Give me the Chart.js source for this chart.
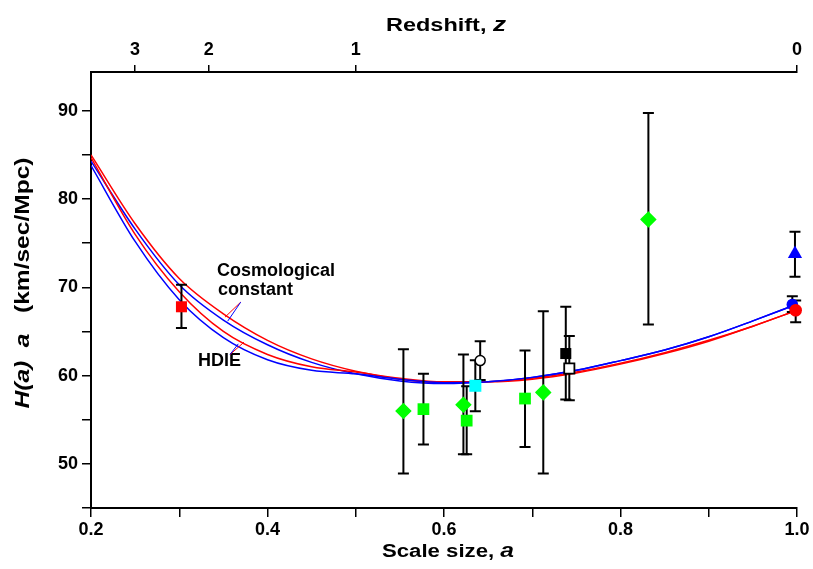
<!DOCTYPE html>
<html><head><meta charset="utf-8">
<script src="https://cdn.jsdelivr.net/npm/chart.js@4.4.1/dist/chart.umd.min.js"></script>
<style>html,body{margin:0;padding:0;background:#fff}canvas{display:block}</style>
</head><body>
<canvas id="c" width="813" height="569"></canvas>
<script>
// ---- data ----
const curveA    = [0.20,0.25,0.30,0.35,0.40,0.45,0.50,0.55,0.60,0.65,0.70,0.75,0.80,0.85,0.90,0.95,1.00];
const cosmoRed  = [85.0,77.2,71.0,67.0,64.0,61.9,60.5,59.6,59.2,59.3,59.7,60.4,61.4,62.6,64.0,65.6,67.4];
const cosmoBlue = [84.3,76.6,70.3,66.3,63.5,61.5,60.2,59.4,59.1,59.3,59.8,60.6,61.7,62.9,64.4,66.2,68.1];
const hdieRed   = [84.7,76.0,69.5,65.0,62.4,61.0,60.4,59.7,59.3,59.3,59.6,60.3,61.3,62.5,63.9,65.6,67.4];
const hdieBlue  = [83.8,75.2,68.6,64.3,61.8,60.6,60.2,59.6,59.2,59.3,59.8,60.6,61.7,62.9,64.4,66.2,68.1];

const redSquareA = [0.3025], redSquareH = [67.8], redSquareLo = [65.4], redSquareHi = [70.3];
const greenDiamondA = [0.554,0.622,0.7125,0.8316], greenDiamondH = [56.0,56.7,58.1,77.7];
const greenDiamondLo = [48.9,51.1,48.9,65.8], greenDiamondHi = [63.0,62.4,67.3,89.75];
const greenSquareA = [0.5767,0.6257,0.6918], greenSquareH = [56.2,54.9,57.4];
const greenSquareLo = [52.2,51.1,51.9], greenSquareHi = [60.2,58.8,62.85];
const cyanSquareA = [0.6355], cyanSquareH = [58.85], cyanSquareLo = [55.95], cyanSquareHi = [61.75];
const openCircleA = [0.641], openCircleH = [61.7], openCircleLo = [59.5], openCircleHi = [63.9];
const blackSquareA = [0.738], blackSquareH = [62.5], blackSquareLo = [57.3], blackSquareHi = [67.8];
const openSquareA = [0.742], openSquareH = [60.8], openSquareLo = [57.2], openSquareHi = [64.5];
const blueTriangleA = [0.9977], blueTriangleH = [73.8], blueTriangleLo = [71.2], blueTriangleHi = [76.3];
const blueCircleA = [0.9947], blueCircleH = [68.06], blueCircleLo = [67.2], blueCircleHi = [69.0];
const redCircleA = [0.9985], redCircleH = [67.4], redCircleLo = [66.05], redCircleHi = [68.5];

const xTickLabels = ['0.2','0.4','0.6','0.8','1.0'];
const yTickLabels = ['50','60','70','80','90'];
const zTickValues = [3,2,1,0];
const zTickLabels = ['3','2','1','0'];

// ---- helpers ----
const FONT = 'Liberation Sans, Arial, sans-serif';
const pts = (a,h) => a.map((x,i)=>({x:x,y:h[i]}));
const errGroups = [
  [redSquareA,redSquareLo,redSquareHi],
  [greenDiamondA,greenDiamondLo,greenDiamondHi],
  [greenSquareA,greenSquareLo,greenSquareHi],
  [cyanSquareA,cyanSquareLo,cyanSquareHi],
  [openCircleA,openCircleLo,openCircleHi],
  [blackSquareA,blackSquareLo,blackSquareHi],
  [openSquareA,openSquareLo,openSquareHi],
  [blueTriangleA,blueTriangleLo,blueTriangleHi],
  [blueCircleA,blueCircleLo,blueCircleHi],
  [redCircleA,redCircleLo,redCircleHi]
];
function marker(label,a,h,style,r,bg,border,bw){
  return {label:label,data:pts(a,h),showLine:false,pointStyle:style,pointRadius:r,pointHoverRadius:r,
    backgroundColor:bg,borderColor:border,borderWidth:bw,clip:false};
}
function curve(label,h,color){
  return {label:label,data:pts(curveA,h),showLine:true,pointRadius:0,borderColor:color,
    borderWidth:1.5,cubicInterpolationMode:'monotone',fill:false};
}
const datasets = [
  marker('redCircle',redCircleA,redCircleH,'circle',6.3,'#ff0000','#ff0000',0),
  marker('blueCircle',blueCircleA,blueCircleH,'circle',5.8,'#0000ff','#0000ff',0),
  marker('blueTriangle',blueTriangleA,blueTriangleH,'triangle',8.2,'#0000ff','#0000ff',0),
  marker('redSquare',redSquareA,redSquareH,'rect',7.8,'#ff0000','#ff0000',0),
  marker('greenDiamond',greenDiamondA,greenDiamondH,'rectRot',7.2,'#00ff00','#00ff00',1.5),
  marker('greenSquare',greenSquareA,greenSquareH,'rect',8.3,'#00ff00','#00ff00',0),
  marker('cyanSquare',cyanSquareA,cyanSquareH,'rect',8.5,'#00ffff','#00ffff',0),
  marker('openCircle',openCircleA,openCircleH,'circle',5,'#ffffff','#000000',1.5),
  marker('blackSquare',blackSquareA,blackSquareH,'rect',7.8,'#000000','#000000',0),
  marker('openSquare',openSquareA,openSquareH,'rect',7.2,'#ffffff','#000000',1.8),
  curve('HDIE blue',hdieBlue,'#0000ff'),
  curve('HDIE red',hdieRed,'#ff0000'),
  curve('Cosmo blue',cosmoBlue,'#0000ff'),
  curve('Cosmo red',cosmoRed,'#ff0000')
];
const FIRST_CURVE = 10;

const errorBars = {
  id:'errorBars',
  afterDatasetDraw(chart,args){
    if(args.index!==FIRST_CURVE) return;
    const ctx=chart.ctx, xs=chart.scales.x, ys=chart.scales.y;
    ctx.save(); ctx.strokeStyle='#000'; ctx.lineWidth=2; ctx.lineCap='butt';
    errGroups.forEach(g=>{
      g[0].forEach((a,i)=>{
        const px=xs.getPixelForValue(a), p1=ys.getPixelForValue(g[1][i]), p2=ys.getPixelForValue(g[2][i]);
        ctx.beginPath();
        ctx.moveTo(px,p1); ctx.lineTo(px,p2);
        ctx.moveTo(px-5.5,p1); ctx.lineTo(px+5.5,p1);
        ctx.moveTo(px-5.5,p2); ctx.lineTo(px+5.5,p2);
        ctx.stroke();
      });
    });
    ctx.restore();
  }
};

function drawParts(ctx,parts,cx,cy,targetW){
  let w=0; parts.forEach(p=>{ctx.font=p.f; p.w=ctx.measureText(p.t).width; w+=p.w;});
  const sx = targetW? targetW/w : 1;
  ctx.save(); ctx.translate(cx,cy); ctx.scale(sx,1);
  let x=-w/2; ctx.textBaseline='alphabetic'; ctx.textAlign='left'; ctx.fillStyle='#000';
  parts.forEach(p=>{ctx.font=p.f; ctx.fillText(p.t,x,0); x+=p.w;});
  ctx.restore();
}

const texts = {
  id:'texts',
  afterDraw(chart){
    const ctx=chart.ctx, xs=chart.scales.x, ys=chart.scales.y;
    drawParts(ctx,[{t:'Redshift, ',f:'bold 18px '+FONT},{t:'z',f:'italic bold 20px '+FONT}],446,31,120);
    drawParts(ctx,[{t:'Scale size, ',f:'bold 18px '+FONT},{t:'a',f:'italic bold 20px '+FONT}],448,557,132);
    ctx.save(); ctx.translate(29,283); ctx.rotate(-Math.PI/2);
    drawParts(ctx,[{t:'H(a)  a   ',f:'italic bold 20px '+FONT},{t:'(km/sec/Mpc)',f:'bold 20px '+FONT}],0,0,251);
    ctx.restore();
    ctx.save(); ctx.fillStyle='#000'; ctx.font='bold 18px '+FONT; ctx.textBaseline='middle'; ctx.textAlign='left';
    ctx.fillText('Cosmological', xs.getPixelForValue(0.3428), ys.getPixelForValue(71.9));
    ctx.fillText('constant', xs.getPixelForValue(0.3439), ys.getPixelForValue(69.65));
    ctx.fillText('HDIE', xs.getPixelForValue(0.3212), ys.getPixelForValue(61.6));
    const seg=(a1,h1,a2,h2,c)=>{ctx.beginPath();ctx.strokeStyle=c;ctx.lineWidth=1;
      ctx.moveTo(xs.getPixelForValue(a1),ys.getPixelForValue(h1));ctx.lineTo(xs.getPixelForValue(a2),ys.getPixelForValue(h2));ctx.stroke();};
    seg(0.3696,68.32,0.3518,66.62,'#ff0000');
    seg(0.3696,68.32,0.3549,66.17,'#0000ff');
    seg(0.3575,62.39,0.3734,63.79,'#ff0000');
    seg(0.3575,62.39,0.3669,63.60,'#0000ff');
    ctx.restore();
  }
};

const tickFont = {family:FONT, size:18, weight:'bold'};
new Chart(document.getElementById('c'),{
  type:'scatter',
  data:{datasets:datasets},
  options:{
    responsive:false, animation:false, devicePixelRatio:1,
    layout:{padding:{left:0,right:16,top:0,bottom:0}},
    plugins:{legend:{display:false},tooltip:{enabled:false}},
    scales:{
      x:{type:'linear',position:'bottom',min:0.2,max:1.0,
        ticks:{stepSize:0.1,includeBounds:false,color:'#000',font:tickFont,padding:2,maxRotation:0,autoSkip:false,
          callback:(v)=>{const s=(Math.round(v*10)/10).toFixed(1);return xTickLabels.includes(s)?s:'';}},
        grid:{drawOnChartArea:false,drawTicks:true,tickLength:9,color:'#000',lineWidth:1.5},
        border:{display:true,color:'#000',width:2},
        afterFit:(s)=>{s.height=61;}
      },
      x2:{type:'linear',position:'top',min:0.2,max:1.0,
        afterBuildTicks:(s)=>{s.ticks=zTickValues.map(z=>({value:1/(1+z)}));},
        ticks:{color:'#000',font:tickFont,padding:4,maxRotation:0,autoSkip:false,
          callback:(v,i)=>zTickLabels[i]},
        grid:{drawOnChartArea:false,drawTicks:true,tickLength:7,color:'#000',lineWidth:1.5},
        border:{display:true,color:'#000',width:2},
        afterFit:(s)=>{s.height=72;}
      },
      y:{type:'linear',position:'left',min:45,max:94.4,
        ticks:{stepSize:5,includeBounds:false,color:'#000',font:tickFont,padding:4,
          callback:(v)=>{const s=String(Math.round(v));return yTickLabels.includes(s)?s:'';}},
        grid:{drawOnChartArea:false,drawTicks:true,tickLength:9,color:'#000',lineWidth:1.5},
        border:{display:true,color:'#000',width:2},
        afterFit:(s)=>{s.width=91;}
      }
    }
  },
  plugins:[errorBars,texts]
});
</script>
</body></html>
